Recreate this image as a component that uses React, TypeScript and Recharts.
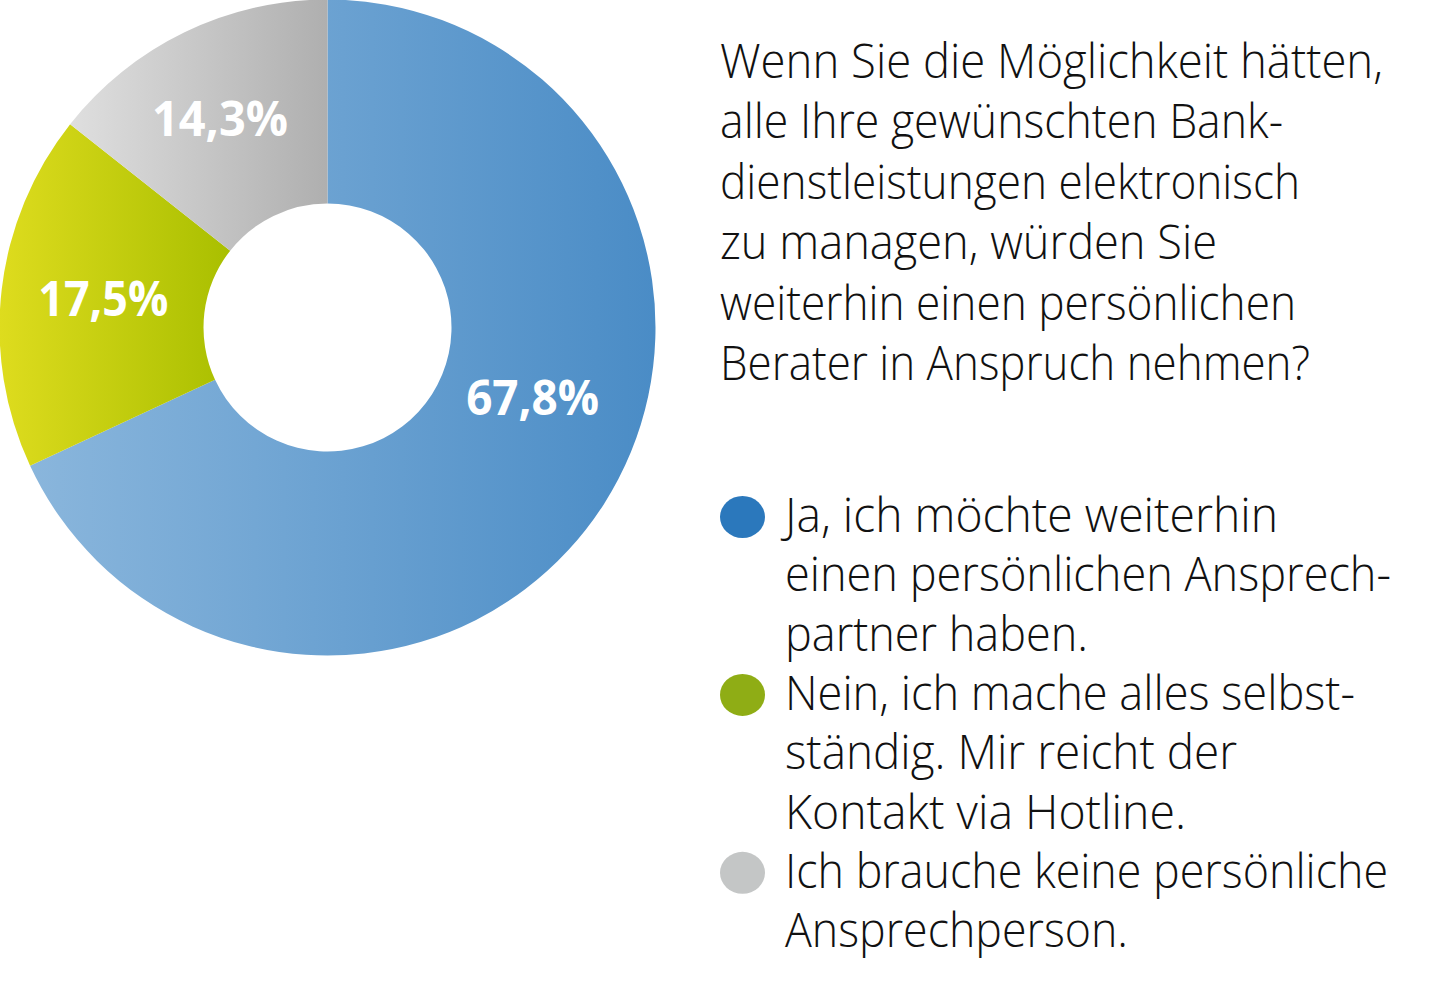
import React from "react";
import { PieChart, Pie, Cell } from "recharts";

// ---------- data ----------
const categories = [
  "Ja, ich möchte weiterhin einen persönlichen Ansprechpartner haben.",
  "Nein, ich mache alles selbstständig. Mir reicht der Kontakt via Hotline.",
  "Ich brauche keine persönliche Ansprechperson.",
];
const values = [67.8, 17.5, 14.3];
const valueLabels = ["67,8%", "17,5%", "14,3%"];
const questionLines = [
  "Wenn Sie die Möglichkeit hätten,",
  "alle Ihre gewünschten Bank-",
  "dienstleistungen elektronisch",
  "zu managen, würden Sie",
  "weiterhin einen persönlichen",
  "Berater in Anspruch nehmen?",
];
const legendLines = [
  ["Ja, ich möchte weiterhin", "einen persönlichen Ansprech-", "partner haben."],
  ["Nein, ich mache alles selbst-", "ständig. Mir reicht der", "Kontakt via Hotline."],
  ["Ich brauche keine persönliche", "Ansprechperson."],
];

// ---------- styles / layout ----------
const FONT = "'Open Sans', 'DejaVu Sans', sans-serif";
const gradients = [
  { id: "gBlue", from: "#8ab6dc", to: "#4a8cc6" },
  { id: "gGreen", from: "#dedc1e", to: "#a9bf00" },
  { id: "gGray", from: "#dfdfdf", to: "#afafaf" },
];
const dotColors = ["#2b78bc", "#8fad15", "#c4c6c6"];
const questionWidths = [663, 563, 580, 497, 576, 590];
const legendWidths = [493, 606, 303, 570, 452, 401, 603, 343];
const labelWidths = [133, 130, 136];
const labelRadius = [217, 226, 235];
const labelAngleShift = [13.5, -0.6, 1.4];

const data = categories.map((name, i) => ({ name, value: values[i], label: valueLabels[i] }));

const RAD = Math.PI / 180;

const renderLabel = (props: any) => {
  const { cx, cy, midAngle, index } = props;
  const a = (midAngle + labelAngleShift[index]) * RAD;
  const r = labelRadius[index];
  const x = cx + r * Math.cos(-a);
  const y = cy + r * Math.sin(-a);
  return (
    <text
      key={`lbl-${index}`}
      x={x}
      y={y + 17}
      fill="#ffffff"
      textAnchor="middle"
      fontFamily={FONT}
      fontWeight={700}
      fontSize={48}
      textLength={labelWidths[index]}
      lengthAdjust="spacingAndGlyphs"
    >
      {data[index].label}
    </text>
  );
};

export default function App() {
  let lineIdx = 0;
  return (
    <div style={{ position: "absolute", left: 0, top: 0, width: 1440, height: 985, background: "#fff" }}>
      <PieChart width={1440} height={985} margin={{ top: 0, right: 0, bottom: 0, left: 0 }}>
        <defs>
          {gradients.map((g) => (
            <linearGradient key={g.id} id={g.id} x1="0" y1="0" x2="1" y2="0">
              <stop offset="0%" stopColor={g.from} />
              <stop offset="100%" stopColor={g.to} />
            </linearGradient>
          ))}
        </defs>
        <Pie
          data={data}
          dataKey="value"
          nameKey="name"
          cx={327.5}
          cy={327.5}
          innerRadius={124}
          outerRadius={328}
          startAngle={90}
          endAngle={-270}
          stroke="none"
          isAnimationActive={false}
          label={renderLabel}
          labelLine={false}
        >
          {data.map((d, i) => (
            <Cell key={d.name} fill={`url(#${gradients[i].id})`} stroke="none" />
          ))}
        </Pie>
      </PieChart>
      <svg
        width={1440}
        height={985}
        style={{ position: "absolute", left: 0, top: 0, pointerEvents: "none" }}
      >
        {questionLines.map((t, i) => (
          <text
            key={`q${i}`}
            x={720}
            y={78 + i * 60.4}
            fontFamily={FONT}
            fontWeight={300}
            fontSize={47}
            fill="#111"
            textLength={questionWidths[i]}
            lengthAdjust="spacingAndGlyphs"
          >
            {t}
          </text>
        ))}
        {legendLines.map((lines, gi) => {
          const startIdx = lineIdx;
          const els = [
            <ellipse
              key={`d${gi}`}
              cx={742.5}
              cy={532 + startIdx * 59.3 - 15}
              rx={22.5}
              ry={21}
              fill={dotColors[gi]}
            />,
            ...lines.map((t, li) => {
              const k = startIdx + li;
              return (
                <text
                  key={`l${gi}-${li}`}
                  x={785}
                  y={532 + k * 59.3}
                  fontFamily={FONT}
                  fontWeight={300}
                  fontSize={47}
                  fill="#111"
                  textLength={legendWidths[k]}
                  lengthAdjust="spacingAndGlyphs"
                >
                  {t}
                </text>
              );
            }),
          ];
          lineIdx += lines.length;
          return <g key={`g${gi}`}>{els}</g>;
        })}
      </svg>
    </div>
  );
}
